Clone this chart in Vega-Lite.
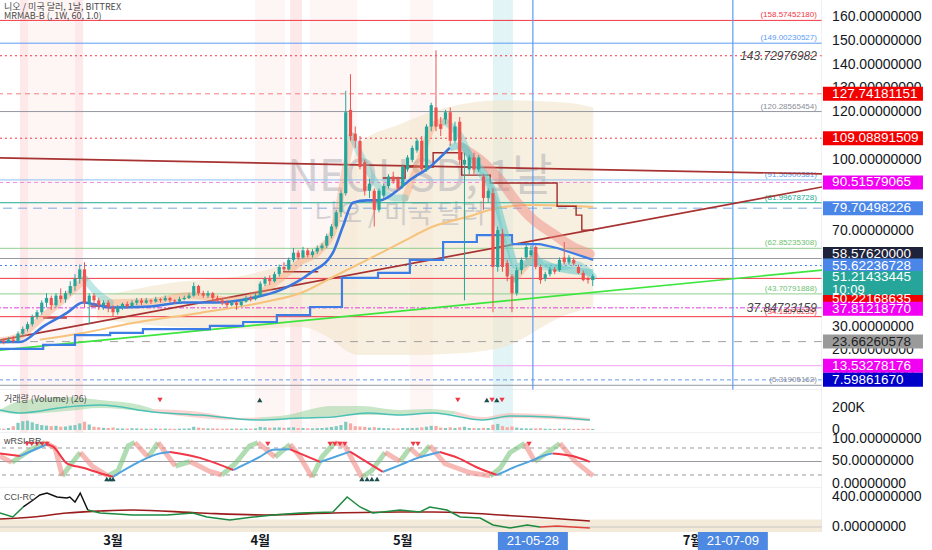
{
  "$schema": "https://vega.github.io/schema/vega-lite/v6.json",
  "padding": 0,
  "background": "#ffffff",
  "spacing": 0,
  "bounds": "flush",
  "config": {"font": "Liberation Sans", "view": {"stroke": null}, "concat": {"spacing": 0}},
  "datasets": {
    "candles": [
      {"t":-24,"o":23,"h":25,"l":22,"c":24,"vol":15},{"t":-23,"o":24,"h":25,"l":22.5,"c":23.5,"vol":12},{"t":-22,"o":23.5,"h":25.5,"l":23,"c":24.5,"vol":18},{"t":-21,"o":24.5,"h":26,"l":23,"c":24,"vol":35},
      {"t":-20,"o":24,"h":28,"l":23.5,"c":27,"vol":65},{"t":-19,"o":27,"h":30,"l":26,"c":29,"vol":80},{"t":-18,"o":29,"h":32,"l":28,"c":31,"vol":85},{"t":-17,"o":31,"h":35,"l":30,"c":34,"vol":70},
      {"t":-16,"o":34,"h":37,"l":33,"c":36,"vol":55},{"t":-15,"o":36,"h":41,"l":35,"c":40,"vol":45},{"t":-14,"o":40,"h":44,"l":38,"c":42,"vol":40},{"t":-13,"o":42,"h":43,"l":37,"c":39,"vol":35},
      {"t":-12,"o":39,"h":44,"l":38,"c":43,"vol":38},{"t":-11,"o":43,"h":46,"l":40,"c":41.5,"vol":30},{"t":-10,"o":41.5,"h":45,"l":40,"c":44,"vol":32},{"t":-9,"o":44,"h":49,"l":43,"c":47,"vol":40},
      {"t":-8,"o":47,"h":52,"l":45,"c":50,"vol":45},{"t":-7,"o":50,"h":56,"l":48,"c":54,"vol":60},{"t":-6,"o":54,"h":57,"l":38,"c":40,"vol":75},{"t":-5,"o":40,"h":44,"l":31,"c":43,"vol":50},
      {"t":-4,"o":43,"h":44,"l":39,"c":41,"vol":30},{"t":-3,"o":41,"h":42,"l":37,"c":39,"vol":25},{"t":-2,"o":39,"h":41,"l":37,"c":40,"vol":20},{"t":-1,"o":40,"h":41,"l":36,"c":38,"vol":18},
      {"t":0,"o":38,"h":39,"l":34,"c":36,"vol":22},{"t":1,"o":36,"h":39,"l":35,"c":38,"vol":15},{"t":2,"o":38,"h":40,"l":37,"c":39.5,"vol":14},{"t":3,"o":39.5,"h":40.5,"l":37.5,"c":38.5,"vol":13},
      {"t":4,"o":38.5,"h":41,"l":38,"c":40,"vol":16},{"t":5,"o":40,"h":42,"l":39,"c":41,"vol":15},{"t":6,"o":41,"h":42,"l":39,"c":40,"vol":13},{"t":7,"o":40,"h":42,"l":39.5,"c":41,"vol":12},
      {"t":8,"o":41,"h":41.5,"l":39.5,"c":40.5,"vol":12},{"t":9,"o":40.5,"h":42.5,"l":40,"c":41.5,"vol":14},{"t":10,"o":41.5,"h":42,"l":40,"c":41,"vol":12},{"t":11,"o":41,"h":43,"l":40.5,"c":42,"vol":13},
      {"t":12,"o":42,"h":42.5,"l":40,"c":41,"vol":12},{"t":13,"o":41,"h":41.5,"l":39.5,"c":40.5,"vol":11},{"t":14,"o":40.5,"h":42.5,"l":40,"c":41.5,"vol":12},{"t":15,"o":41.5,"h":43,"l":41,"c":42,"vol":13},
      {"t":16,"o":42,"h":44,"l":41.5,"c":43,"vol":15},{"t":17,"o":43,"h":48.5,"l":42.5,"c":47,"vol":30},{"t":18,"o":47,"h":47.5,"l":43,"c":44,"vol":22},{"t":19,"o":44,"h":45,"l":42,"c":43,"vol":16},
      {"t":20,"o":43,"h":45,"l":42,"c":44,"vol":14},{"t":21,"o":44,"h":44.5,"l":41,"c":42,"vol":15},{"t":22,"o":42,"h":43,"l":40,"c":41,"vol":13},{"t":23,"o":41,"h":42,"l":39,"c":40,"vol":12},
      {"t":24,"o":40,"h":41,"l":38,"c":39,"vol":13},{"t":25,"o":39,"h":41,"l":38.5,"c":40,"vol":12},{"t":26,"o":40,"h":40.5,"l":37,"c":39,"vol":14},{"t":27,"o":39,"h":41.5,"l":38.5,"c":40.5,"vol":12},
      {"t":28,"o":40.5,"h":43,"l":40,"c":42,"vol":14},{"t":29,"o":42,"h":43,"l":40.5,"c":41.5,"vol":12},{"t":30,"o":41.5,"h":44,"l":41,"c":43,"vol":15},{"t":31,"o":43,"h":49,"l":42.5,"c":48,"vol":28},
      {"t":32,"o":48,"h":51,"l":47,"c":50,"vol":24},{"t":33,"o":50,"h":51.5,"l":47.5,"c":49,"vol":20},{"t":34,"o":49,"h":53,"l":48.5,"c":52,"vol":22},{"t":35,"o":52,"h":56,"l":51,"c":55,"vol":24},
      {"t":36,"o":55,"h":57,"l":53,"c":54,"vol":20},{"t":37,"o":54,"h":59,"l":53.5,"c":58,"vol":22},{"t":38,"o":58,"h":63,"l":57,"c":61,"vol":25},{"t":39,"o":61,"h":62,"l":58,"c":59,"vol":18},
      {"t":40,"o":59,"h":63.5,"l":58.5,"c":62,"vol":18},{"t":41,"o":62,"h":63,"l":59,"c":60,"vol":16},{"t":42,"o":60,"h":62.5,"l":59,"c":61.5,"vol":15},{"t":43,"o":61.5,"h":64,"l":60.5,"c":63,"vol":17},
      {"t":44,"o":63,"h":65,"l":62,"c":64,"vol":18},{"t":45,"o":64,"h":69,"l":63,"c":68,"vol":22},{"t":46,"o":68,"h":73,"l":67,"c":72,"vol":28},{"t":47,"o":72,"h":79,"l":71,"c":78,"vol":35},
      {"t":48,"o":78,"h":87,"l":76,"c":86,"vol":45},{"t":49,"o":86,"h":129,"l":85,"c":120,"vol":75},{"t":50,"o":121,"h":136,"l":108,"c":110,"vol":60},{"t":51,"o":111,"h":114,"l":105,"c":108,"vol":35},
      {"t":52,"o":108,"h":110,"l":96,"c":97,"vol":32},{"t":53,"o":99,"h":100,"l":85,"c":87,"vol":28},{"t":54,"o":87,"h":92,"l":84,"c":90,"vol":22},{"t":55,"o":87,"h":88,"l":72,"c":79,"vol":26},
      {"t":56,"o":79,"h":88,"l":78,"c":87,"vol":20},{"t":57,"o":85,"h":90,"l":84,"c":89,"vol":17},{"t":58,"o":89,"h":94,"l":88,"c":93,"vol":16},{"t":59,"o":93,"h":95,"l":90,"c":91,"vol":15},
      {"t":60,"o":92,"h":93,"l":87,"c":88,"vol":14},{"t":61,"o":89,"h":98,"l":88,"c":97,"vol":18},{"t":62,"o":96,"h":102,"l":95,"c":101,"vol":17},{"t":63,"o":100,"h":106,"l":99,"c":105,"vol":18},
      {"t":64,"o":104,"h":109,"l":103,"c":108,"vol":20},{"t":65,"o":108,"h":110,"l":95,"c":96,"vol":24},{"t":66,"o":96,"h":115,"l":95,"c":114,"vol":30},{"t":67,"o":114,"h":124,"l":112,"c":123,"vol":38},
      {"t":68,"o":122,"h":146,"l":112,"c":114,"vol":36},{"t":69,"o":115,"h":118,"l":110,"c":113,"vol":22},{"t":70,"o":117,"h":121,"l":115,"c":120,"vol":18},{"t":71,"o":120,"h":122,"l":106,"c":108,"vol":24},
      {"t":72,"o":108,"h":116,"l":107,"c":114,"vol":18},{"t":73,"o":116,"h":118,"l":98,"c":100,"vol":25},{"t":74,"o":98,"h":103,"l":41,"c":100,"vol":30},{"t":75,"o":96,"h":102,"l":94,"c":101,"vol":18},
      {"t":76,"o":101,"h":103,"l":94,"c":96,"vol":17},{"t":77,"o":96,"h":102,"l":95,"c":101,"vol":16},{"t":78,"o":93,"h":94,"l":79,"c":84,"vol":20},{"t":79,"o":84,"h":88,"l":82,"c":87,"vol":18},
      {"t":80,"o":86,"h":88,"l":36,"c":55,"vol":48},{"t":81,"o":55,"h":72,"l":53,"c":70.5,"vol":55},{"t":82,"o":69,"h":71,"l":53,"c":55,"vol":35},{"t":83,"o":56.7,"h":58,"l":49,"c":51,"vol":25},
      {"t":84,"o":51,"h":52,"l":36,"c":44,"vol":32},{"t":85,"o":44,"h":55,"l":43,"c":53.7,"vol":22},{"t":86,"o":53.7,"h":59,"l":52,"c":58,"vol":16},{"t":87,"o":59,"h":65,"l":58,"c":63.4,"vol":15},
      {"t":88,"o":60,"h":64,"l":59,"c":62,"vol":14},{"t":89,"o":63.4,"h":64,"l":54,"c":55,"vol":15},{"t":90,"o":55,"h":56,"l":48,"c":49.5,"vol":16},{"t":91,"o":50,"h":53,"l":49,"c":52,"vol":12},
      {"t":92,"o":52,"h":55,"l":51,"c":54,"vol":11},{"t":93,"o":54,"h":55,"l":52,"c":53,"vol":10},{"t":94,"o":53.7,"h":59,"l":53,"c":58,"vol":12},{"t":95,"o":59,"h":65.5,"l":56,"c":57,"vol":14},
      {"t":96,"o":57,"h":60,"l":56,"c":59,"vol":11},{"t":97,"o":58,"h":59,"l":55.5,"c":56.5,"vol":10},{"t":98,"o":55,"h":56,"l":52,"c":52.5,"vol":11},{"t":99,"o":52.5,"h":53.5,"l":49,"c":49.5,"vol":12},
      {"t":100,"o":50,"h":51,"l":48,"c":49.5,"vol":12},{"t":101,"o":49.5,"h":52,"l":47,"c":51.2,"vol":10}
    ],
    "bands": [
      {"t1":-19.6,"t2":-17.9,"k":"p"},{"t1":-17.9,"t2":-8,"k":"pf"},{"t1":-8,"t2":-6.3,"k":"p"},{"t1":29.9,"t2":36.2,"k":"pf"},
      {"t1":37.3,"t2":39.8,"k":"p"},{"t1":41.5,"t2":51.4,"k":"pf"},{"t1":62.5,"t2":67.4,"k":"pf"},{"t1":80,"t2":82.5,"k":"c"},{"t1":82.5,"t2":84.2,"k":"c"}
    ],
    "cloud": [
      {"t":-3.4,"top":42.4,"bot":33},{"t":12,"top":48.3,"bot":30},{"t":28.8,"top":52,"bot":29},{"t":39.4,"top":60,"bot":29.8},
      {"t":45.7,"top":70,"bot":25},{"t":49.9,"top":95,"bot":19},{"t":52,"top":107,"bot":18},{"t":60.4,"top":115,"bot":18},
      {"t":70.3,"top":122,"bot":18.5},{"t":81.5,"top":125,"bot":21},{"t":95.6,"top":124,"bot":35},{"t":101.1,"top":122,"bot":38.2}
    ],
    "levels": [
      {"v":158.5745218,"s":"rs"},{"v":149.00230527,"s":"bs"},{"v":143.72976982,"s":"rdot"},{"v":127.74181151,"s":"rdash"},
      {"v":120.28565454,"s":"gs"},{"v":109.08891509,"s":"rdot"},{"v":91.56900381,"s":"bs2"},{"v":90.51579065,"s":"mdash"},
      {"v":81.99678728,"s":"ts"},{"v":79.70498226,"s":"bdash"},{"v":62.85235308,"s":"grs"},{"v":58.5762,"s":"gs"},
      {"v":55.62236728,"s":"bdot"},{"v":50.22168635,"s":"rs"},{"v":43.70791888,"s":"grs"},{"v":37.84723159,"s":"mdd"},
      {"v":34.13570235,"s":"rs"},{"v":23.66260578,"s":"gdash"},{"v":13.53278176,"s":"ms"},{"v":7.5986167,"s":"bdash2"},{"v":5.31905162,"s":"gs"}
    ],
    "levlab": [
      {"v":158.5745218,"s":"rs","label":"(158.57452180)"},{"v":149.00230527,"s":"bs","label":"(149.00230527)"},
      {"v":120.28565454,"s":"gs","label":"(120.28565454)"},{"v":91.56900381,"s":"bs","label":"(91.56900381)"},
      {"v":81.99678728,"s":"ts","label":"(81.99678728)"},{"v":62.85235308,"s":"grs","label":"(62.85235308)"},
      {"v":43.70791888,"s":"grs","label":"(43.70791888)"},{"v":34.13570235,"s":"rs","label":"(34.13570235)"},
      {"v":5.31905162,"s":"gs","label":"(5.31905162)"}
    ],
    "ital": [{"v":143.72976982,"label":"143.72976982"},{"v":37.84723159,"label":"37.84723159"}],
    "dates": [{"t":88.4,"label":"21-05-28"},{"t":130.5,"label":"21-07-09"}],
    "months": [{"t":0,"label":"3월"},{"t":31,"label":"4월"},{"t":61,"label":"5월"},{"t":122,"label":"7월"}],
    "pticks": [
      {"v":10,"label":"10.00000000"},{"v":20,"label":"20.00000000"},{"v":30,"label":"30.00000000"},{"v":70,"label":"70.00000000"},
      {"v":100,"label":"100.00000000"},{"v":120,"label":"120.00000000"},
      {"v":130,"label":"130.00000000"},{"v":140,"label":"140.00000000"},{"v":150,"label":"150.00000000"},{"v":160,"label":"160.00000000"}
    ],
    "trend": [
      {"t":-23.79,"v":100.8,"k":"d"},{"t":149.27,"v":94.1,"k":"d"},
      {"t":-23.79,"v":24.3,"k":"u"},{"t":149.27,"v":88.6,"k":"u"},
      {"t":-23.79,"v":20.1,"k":"g"},{"t":149.27,"v":53.7,"k":"g"}
    ],
    "ma": [
      {"t":-15.4,"v":24.5},{"t":-6.3,"v":27.3},{"t":4.2,"v":31.5},{"t":18.3,"v":35.7},{"t":32.4,"v":40.5},{"t":39.4,"v":44},
      {"t":46.3,"v":50.8},{"t":53.5,"v":58},{"t":60.4,"v":65},{"t":67.4,"v":72},{"t":74.5,"v":76},{"t":81.5,"v":80},{"t":88.4,"v":81},{"t":101.1,"v":80.2}
    ],
    "pink": [
      {"t":73.5,"v":105},{"t":77.3,"v":100},{"t":81.5,"v":91.5},{"t":85.1,"v":82},{"t":88.4,"v":75},{"t":92.6,"v":69},{"t":96.8,"v":63.4},{"t":100.4,"v":60.5}
    ],
    "bstep": [
      {"t":-23.8,"v":20.6},{"t":-14.7,"v":22.3},{"t":-8,"v":26.4},{"t":-0.6,"v":27.3},{"t":6.3,"v":28.9},{"t":20.4,"v":30.3},
      {"t":27.4,"v":31.9},{"t":34.5,"v":34.8},{"t":41.5,"v":38.2},{"t":48.2,"v":50.4},{"t":55.8,"v":52.5},{"t":62.5,"v":58},
      {"t":69.5,"v":65.5},{"t":76.6,"v":68.4},{"t":84,"v":64.6},{"t":89.9,"v":64.6}
    ],
    "bdiag": [{"t":89.9,"v":64.6},{"t":93.5,"v":63},{"t":101.1,"v":58}],
    "rstep": [
      {"t":-14.7,"v":33.6,"g":1},{"t":-9.7,"v":33.6,"g":1},
      {"t":-4.8,"v":38.6,"g":2},{"t":-0.6,"v":38.6,"g":2},
      {"t":35.8,"v":53,"g":3},{"t":43.2,"v":53,"g":3},
      {"t":56.8,"v":92.4,"g":4},{"t":61.5,"v":97,"g":4},{"t":67.4,"v":103,"g":4},{"t":73.4,"v":93.6,"g":4},{"t":79.4,"v":90.3,"g":4},
      {"t":93.5,"v":80.5,"g":4},{"t":97.5,"v":76.8,"g":4},{"t":98.7,"v":70.5,"g":4},{"t":101.1,"v":70,"g":4}
    ],
    "fast": [
      {"t":-23.8,"v":24,"g":1,"k":"o"},{"t":-19.6,"v":26,"g":1,"k":"o"},{"t":-15.4,"v":33,"g":1,"k":"o"},{"t":-11.2,"v":40,"g":1,"k":"o"},{"t":-8,"v":46,"g":1,"k":"o"},{"t":-5.9,"v":50,"g":1,"k":"o"},
      {"t":-5.9,"v":50,"g":2,"k":"c"},{"t":-3.8,"v":45,"g":2,"k":"c"},{"t":-0.6,"v":40,"g":2,"k":"c"},
      {"t":-0.6,"v":40,"g":3,"k":"o"},{"t":7.8,"v":40.5,"g":3,"k":"o"},{"t":16.2,"v":43,"g":3,"k":"o"},{"t":24.6,"v":41,"g":3,"k":"o"},{"t":30.9,"v":44,"g":3,"k":"o"},{"t":35.2,"v":50,"g":3,"k":"o"},{"t":39.4,"v":57,"g":3,"k":"o"},{"t":43.6,"v":62,"g":3,"k":"o"},{"t":46.7,"v":72,"g":3,"k":"o"},{"t":48.8,"v":95,"g":3,"k":"o"},{"t":50.3,"v":110,"g":3,"k":"o"},
      {"t":50.3,"v":110,"g":4,"k":"c"},{"t":53.1,"v":98,"g":4,"k":"c"},{"t":56.2,"v":88,"g":4,"k":"c"},{"t":59.4,"v":84,"g":4,"k":"c"},{"t":61.5,"v":84,"g":4,"k":"c"},
      {"t":61.5,"v":84,"g":5,"k":"o"},{"t":64.6,"v":100,"g":5,"k":"o"},{"t":67.8,"v":115,"g":5,"k":"o"},{"t":69.9,"v":116,"g":5,"k":"o"},
      {"t":69.9,"v":116,"g":6,"k":"c"},{"t":73.1,"v":110,"g":6,"k":"c"},{"t":76.2,"v":97,"g":6,"k":"c"},{"t":79.4,"v":88,"g":6,"k":"c"},{"t":81.5,"v":70,"g":6,"k":"c"},{"t":83.6,"v":55,"g":6,"k":"c"},{"t":84.6,"v":50,"g":6,"k":"c"},
      {"t":84.6,"v":50,"g":7,"k":"o"},{"t":86.7,"v":55,"g":7,"k":"o"},{"t":88.8,"v":60,"g":7,"k":"o"},
      {"t":88.8,"v":60,"g":8,"k":"c"},{"t":90.9,"v":55,"g":8,"k":"c"},{"t":94.1,"v":55,"g":8,"k":"c"},{"t":97.3,"v":56,"g":8,"k":"c"},{"t":101.1,"v":51,"g":8,"k":"c"}
    ],
    "ema": [
      {"t":-23.8,"v":23.5,"k":"b"},{"t":-19.6,"v":23.5,"k":"b"},{"t":-14.7,"v":30,"k":"b"},{"t":-9.7,"v":35.7,"k":"b"},{"t":-6.3,"v":40.1,"k":"b"},
      {"t":-3.8,"v":39.3,"k":"b"},{"t":-0.6,"v":38,"k":"b"},{"t":7.8,"v":38.4,"k":"b"},{"t":14.7,"v":40.1,"k":"b"},{"t":21.9,"v":40.1,"k":"b"},
      {"t":28.8,"v":41.8,"k":"b"},{"t":35.2,"v":45.3,"k":"b"},{"t":41.5,"v":52.4,"k":"b"},{"t":46.3,"v":61,"k":"b"},{"t":48.4,"v":72,"k":"b"},
      {"t":50.5,"v":82,"k":"b"},{"t":53.5,"v":83,"k":"b"},{"t":56.2,"v":83,"k":"b"},{"t":60.4,"v":88,"k":"b"},{"t":62.5,"v":91.5,"k":"b"},
      {"t":66.7,"v":97,"k":"b"},{"t":70.9,"v":105,"k":"b"},
      {"t":70.9,"v":105,"k":"c"},{"t":73.1,"v":106,"k":"c"},{"t":75.8,"v":100,"k":"c"},{"t":80,"v":87,"k":"c"},{"t":82.9,"v":67,"k":"c"},
      {"t":85.1,"v":55,"k":"c"},{"t":87.8,"v":57,"k":"c"},{"t":89.9,"v":57,"k":"c"},{"t":92.6,"v":55,"k":"c"},{"t":101.1,"v":52.6,"k":"c"}
    ],
    "tags": [
      {"pos":127.74181151,"label":"127.74181151"},{"pos":109.08891509,"label":"109.08891509"},{"pos":90.51579065,"label":"90.51579065"},
      {"pos":79.70498226,"label":"79.70498226"},{"pos":60.5,"label":"58.57620000"},{"pos":55.62236728,"label":"55.62236728"},
      {"pos":50.8,"label":"51.21433445"},{"pos":41.7,"label":"50.22168635"},{"pos":37.5,"label":"37.81218770"},
      {"pos":23.66260578,"label":"23.66260578"},{"pos":13.53278176,"label":"13.53278176"},{"pos":7.5986167,"label":"7.59861670"}
    ],
    "vband": [
      {"t":-23.8,"lo":164,"hi":182,"g":1,"k":"g"},{"t":-19.6,"lo":145,"hi":264,"g":1,"k":"g"},{"t":-9.7,"lo":173,"hi":300,"g":1,"k":"g"},{"t":-2.7,"lo":200,"hi":273,"g":1,"k":"g"},{"t":5.7,"lo":173,"hi":227,"g":1,"k":"g"},{"t":8.4,"lo":164,"hi":191,"g":1,"k":"g"},
      {"t":8.4,"lo":164,"hi":191,"g":2,"k":"r"},{"t":18.3,"lo":109,"hi":164,"g":2,"k":"r"},{"t":26.7,"lo":91,"hi":109,"g":2,"k":"r"},{"t":30.9,"lo":95,"hi":115,"g":2,"k":"r"},
      {"t":30.9,"lo":95,"hi":115,"g":3,"k":"g"},{"t":35.2,"lo":100,"hi":127,"g":3,"k":"g"},{"t":46.3,"lo":127,"hi":218,"g":3,"k":"g"},{"t":52,"lo":136,"hi":218,"g":3,"k":"g"},{"t":60.4,"lo":136,"hi":182,"g":3,"k":"g"},{"t":66.7,"lo":155,"hi":191,"g":3,"k":"g"},{"t":72,"lo":140,"hi":170,"g":3,"k":"g"},
      {"t":72,"lo":140,"hi":170,"g":4,"k":"r"},{"t":77.9,"lo":91,"hi":118,"g":4,"k":"r"},{"t":83.6,"lo":109,"hi":155,"g":4,"k":"r"},{"t":100.4,"lo":82,"hi":109,"g":4,"k":"r"}
    ],
    "vma": [
      {"t":-23.8,"v":182},{"t":-19.6,"v":155},{"t":-9.7,"v":209},{"t":-2.7,"v":227},{"t":8.4,"v":164},{"t":18.3,"v":136},{"t":30.9,"v":91},{"t":39.4,"v":109},
      {"t":46.3,"v":118},{"t":53.5,"v":155},{"t":60.4,"v":136},{"t":67.4,"v":155},{"t":77.9,"v":91},{"t":83.6,"v":127},{"t":92,"v":118},{"t":100.4,"v":91}
    ],
    "vmarks": [
      {"t":9.9,"v":273,"k":"d"},{"t":30.9,"v":273,"k":"u"},{"t":72.6,"v":273,"k":"d"},{"t":78.7,"v":273,"k":"u"},{"t":79.8,"v":273,"k":"d"},{"t":80.8,"v":273,"k":"u"},{"t":81.9,"v":273,"k":"d"}
    ],
    "rlev": [{"v":80,"s":"d"},{"v":50,"s":"s"},{"v":20,"s":"d"}],
    "rsmooth": [
      {"t":-23.8,"v":68,"g":1,"k":"r"},{"t":-19.6,"v":62,"g":1,"k":"r"},
      {"t":-19.6,"v":62,"g":2,"k":"b"},{"t":-16.8,"v":75,"g":2,"k":"b"},{"t":-13.9,"v":88,"g":2,"k":"b"},
      {"t":-13.9,"v":88,"g":3,"k":"r"},{"t":-12.6,"v":83,"g":3,"k":"r"},{"t":-9.7,"v":46,"g":3,"k":"r"},{"t":-6.3,"v":36,"g":3,"k":"r"},{"t":-2.7,"v":24,"g":3,"k":"r"},{"t":0,"v":16,"g":3,"k":"r"},
      {"t":0,"v":16,"g":4,"k":"b"},{"t":4.2,"v":42,"g":4,"k":"b"},{"t":9.9,"v":68,"g":4,"k":"b"},{"t":12,"v":71,"g":4,"k":"b"},
      {"t":12,"v":71,"g":5,"k":"r"},{"t":18.3,"v":58,"g":5,"k":"r"},{"t":25.3,"v":31,"g":5,"k":"r"},
      {"t":25.3,"v":31,"g":6,"k":"b"},{"t":30.9,"v":60,"g":6,"k":"b"},{"t":33.7,"v":76,"g":6,"k":"b"},{"t":37.3,"v":77,"g":6,"k":"b"},
      {"t":37.3,"v":77,"g":7,"k":"r"},{"t":43.6,"v":49,"g":7,"k":"r"},
      {"t":43.6,"v":49,"g":8,"k":"b"},{"t":49.9,"v":72,"g":8,"k":"b"},
      {"t":49.9,"v":72,"g":9,"k":"r"},{"t":56.8,"v":27,"g":9,"k":"r"},
      {"t":56.8,"v":27,"g":10,"k":"b"},{"t":60.4,"v":42,"g":10,"k":"b"},{"t":64.2,"v":58,"g":10,"k":"b"},{"t":68.8,"v":71,"g":10,"k":"b"},
      {"t":68.8,"v":71,"g":11,"k":"r"},{"t":72.6,"v":58,"g":11,"k":"r"},{"t":76.8,"v":36,"g":11,"k":"r"},{"t":80.8,"v":20,"g":11,"k":"r"},
      {"t":80.8,"v":20,"g":12,"k":"b"},{"t":84.2,"v":36,"g":12,"k":"b"},{"t":88.4,"v":53,"g":12,"k":"b"},{"t":90.9,"v":64,"g":12,"k":"b"},{"t":92.6,"v":68,"g":12,"k":"b"},
      {"t":92.6,"v":68,"g":13,"k":"r"},{"t":96.8,"v":62,"g":13,"k":"r"},{"t":100.4,"v":49,"g":13,"k":"r"}
    ],
    "rrib": [
      {"t":-23.8,"v":62,"g":1,"k":"r"},{"t":-21.3,"v":48,"g":1,"k":"r"},
      {"t":-21.3,"v":48,"g":2,"k":"g"},{"t":-17.5,"v":75,"g":2,"k":"g"},{"t":-14.3,"v":92,"g":2,"k":"g"},
      {"t":-14.3,"v":92,"g":3,"k":"r"},{"t":-12.2,"v":80,"g":3,"k":"r"},{"t":-10.7,"v":18,"g":3,"k":"r"},
      {"t":-10.7,"v":18,"g":4,"k":"g"},{"t":-9.1,"v":40,"g":4,"k":"g"},{"t":-6.9,"v":70,"g":4,"k":"g"},
      {"t":-6.9,"v":70,"g":5,"k":"r"},{"t":-4.4,"v":40,"g":5,"k":"r"},{"t":-1.1,"v":18,"g":5,"k":"r"},
      {"t":-1.1,"v":18,"g":6,"k":"g"},{"t":1.1,"v":30,"g":6,"k":"g"},{"t":3.2,"v":85,"g":6,"k":"g"},{"t":4.6,"v":92,"g":6,"k":"g"},
      {"t":4.6,"v":92,"g":7,"k":"r"},{"t":7.4,"v":60,"g":7,"k":"r"},
      {"t":7.4,"v":60,"g":8,"k":"g"},{"t":9.5,"v":92,"g":8,"k":"g"},
      {"t":9.5,"v":92,"g":9,"k":"r"},{"t":13.1,"v":40,"g":9,"k":"r"},
      {"t":13.1,"v":40,"g":10,"k":"g"},{"t":16.2,"v":50,"g":10,"k":"g"},
      {"t":16.2,"v":50,"g":11,"k":"r"},{"t":20.4,"v":28,"g":11,"k":"r"},{"t":22.9,"v":20,"g":11,"k":"r"},
      {"t":22.9,"v":20,"g":12,"k":"g"},{"t":25.7,"v":45,"g":12,"k":"g"},{"t":28.8,"v":85,"g":12,"k":"g"},{"t":30.5,"v":92,"g":12,"k":"g"},
      {"t":30.5,"v":92,"g":13,"k":"r"},{"t":34.1,"v":60,"g":13,"k":"r"},
      {"t":34.1,"v":60,"g":14,"k":"g"},{"t":37.3,"v":88,"g":14,"k":"g"},
      {"t":37.3,"v":88,"g":15,"k":"r"},{"t":39.4,"v":60,"g":15,"k":"r"},{"t":41.9,"v":15,"g":15,"k":"r"},
      {"t":41.9,"v":15,"g":16,"k":"g"},{"t":44,"v":60,"g":16,"k":"g"},{"t":46.7,"v":92,"g":16,"k":"g"},
      {"t":46.7,"v":92,"g":17,"k":"r"},{"t":48.8,"v":85,"g":17,"k":"r"},{"t":52.4,"v":15,"g":17,"k":"r"},
      {"t":52.4,"v":15,"g":18,"k":"g"},{"t":54.5,"v":30,"g":18,"k":"g"},{"t":57.3,"v":70,"g":18,"k":"g"},
      {"t":57.3,"v":70,"g":19,"k":"r"},{"t":60.4,"v":50,"g":19,"k":"r"},
      {"t":60.4,"v":50,"g":20,"k":"g"},{"t":62.5,"v":80,"g":20,"k":"g"},
      {"t":62.5,"v":80,"g":21,"k":"r"},{"t":64.6,"v":60,"g":21,"k":"r"},
      {"t":64.6,"v":60,"g":22,"k":"g"},{"t":66.7,"v":85,"g":22,"k":"g"},
      {"t":66.7,"v":85,"g":23,"k":"r"},{"t":69.9,"v":45,"g":23,"k":"r"},{"t":75.2,"v":25,"g":23,"k":"r"},{"t":79.4,"v":18,"g":23,"k":"r"},
      {"t":79.4,"v":18,"g":24,"k":"g"},{"t":81.5,"v":35,"g":24,"k":"g"},{"t":83.6,"v":70,"g":24,"k":"g"},{"t":86.7,"v":90,"g":24,"k":"g"},
      {"t":86.7,"v":90,"g":25,"k":"r"},{"t":88.8,"v":50,"g":25,"k":"r"},
      {"t":88.8,"v":50,"g":26,"k":"g"},{"t":94.1,"v":90,"g":26,"k":"g"},
      {"t":94.1,"v":90,"g":27,"k":"r"},{"t":97.3,"v":50,"g":27,"k":"r"},{"t":101.1,"v":18,"g":27,"k":"r"}
    ],
    "rmarks": [
      {"t":-18.1,"v":88.9,"k":"d"},{"t":-17.1,"v":88.9,"k":"d"},{"t":-16,"v":88.9,"k":"d"},{"t":-14.9,"v":88.9,"k":"d"},{"t":-13.9,"v":88.9,"k":"d"},
      {"t":32.6,"v":88.9,"k":"d"},{"t":45.7,"v":88.9,"k":"d"},{"t":46.7,"v":88.9,"k":"d"},{"t":47.8,"v":88.9,"k":"d"},{"t":48.8,"v":88.9,"k":"d"},
      {"t":63.2,"v":88.9,"k":"d"},{"t":64.2,"v":88.9,"k":"d"},{"t":87.6,"v":88.9,"k":"d"},
      {"t":-1.3,"v":11.1,"k":"u"},{"t":-0.6,"v":11.1,"k":"u"},{"t":0,"v":11.1,"k":"u"},
      {"t":52.4,"v":11.1,"k":"u"},{"t":53.5,"v":11.1,"k":"u"},{"t":54.5,"v":11.1,"k":"u"},{"t":55.6,"v":11.1,"k":"u"}
    ],
    "cci": [
      {"t":-23.8,"v":187,"g":1,"k":"g"},{"t":-21.1,"v":133,"g":1,"k":"g"},{"t":-18.9,"v":267,"g":1,"k":"g"},
      {"t":-18.9,"v":267,"g":2,"k":"k"},{"t":-16.8,"v":360,"g":2,"k":"k"},{"t":-15.4,"v":427,"g":2,"k":"k"},{"t":-13.9,"v":453,"g":2,"k":"k"},{"t":-11.8,"v":400,"g":2,"k":"k"},
      {"t":-9.7,"v":387,"g":2,"k":"k"},{"t":-9.1,"v":400,"g":2,"k":"k"},{"t":-8,"v":333,"g":2,"k":"k"},{"t":-6.9,"v":453,"g":2,"k":"k"},{"t":-5.3,"v":227,"g":2,"k":"k"},
      {"t":-5.3,"v":227,"g":3,"k":"g"},{"t":-2.7,"v":187,"g":3,"k":"g"},{"t":4.2,"v":160,"g":3,"k":"g"},{"t":11.4,"v":160,"g":3,"k":"g"},{"t":16.8,"v":187,"g":3,"k":"g"},
      {"t":19.8,"v":133,"g":3,"k":"g"},{"t":24.6,"v":93,"g":3,"k":"g"},{"t":29.5,"v":133,"g":3,"k":"g"},{"t":33.7,"v":160,"g":3,"k":"g"},{"t":39.4,"v":187,"g":3,"k":"g"},
      {"t":46.3,"v":200,"g":3,"k":"g"},{"t":49.3,"v":400,"g":3,"k":"g"},{"t":52,"v":267,"g":3,"k":"g"},{"t":54.7,"v":187,"g":3,"k":"g"},{"t":56.8,"v":200,"g":3,"k":"g"},
      {"t":60.4,"v":227,"g":3,"k":"g"},{"t":64.6,"v":200,"g":3,"k":"g"},{"t":66.7,"v":267,"g":3,"k":"g"},{"t":70.3,"v":227,"g":3,"k":"g"},{"t":73.1,"v":133,"g":3,"k":"g"},
      {"t":77.3,"v":120,"g":3,"k":"g"},{"t":80,"v":27,"g":3,"k":"g"},{"t":83.6,"v":-13,"g":3,"k":"g"},{"t":87.2,"v":27,"g":3,"k":"g"},{"t":89.9,"v":0,"g":3,"k":"g"},
      {"t":89.9,"v":0,"g":4,"k":"r"},{"t":93.5,"v":13,"g":4,"k":"r"},{"t":96.8,"v":0,"g":4,"k":"r"},{"t":100.4,"v":-13,"g":4,"k":"r"}
    ],
    "ccima": [
      {"t":-23.8,"v":107},{"t":-16.8,"v":133},{"t":-9.7,"v":187},{"t":-2.7,"v":213},{"t":4.2,"v":227},{"t":18.3,"v":187},{"t":32.4,"v":160},
      {"t":46.3,"v":187},{"t":60.4,"v":200},{"t":67.4,"v":200},{"t":74.5,"v":187},{"t":81.5,"v":160},{"t":88.4,"v":133},{"t":100.4,"v":80}
    ]
  },
  "vconcat": [
    {
      "width": 822,
      "height": 390,
      "resolve": {"scale": {"color": "independent", "strokeDash": "independent", "size": "independent"}},
      "layer": [
        {"data": {"name": "bands"}, "mark": {"type": "rect", "clip": true},
         "encoding": {"x": {"field": "t1", "type": "quantitative", "scale": {"domain": [-23.79, 149.27], "nice": false, "zero": false, "padding": 0}, "axis": null}, "x2": {"field": "t2"},
           "color": {"field": "k", "type": "nominal", "scale": {"domain": ["p", "pf", "c"], "range": ["#fde9e9", "#fef5f5", "#e3f4f6"]}, "legend": null}}},
        {"data": {"name": "cloud"}, "mark": {"type": "area", "color": "#f2e4cc", "opacity": 0.6, "interpolate": "monotone", "clip": true},
         "encoding": {"x": {"field": "t", "type": "quantitative", "scale": {"domain": [-23.79, 149.27], "nice": false, "zero": false, "padding": 0}, "axis": null},
           "y": {"field": "top", "type": "quantitative", "scale": {"domain": [3.34, 167.14], "nice": false, "zero": false}, "axis": null}, "y2": {"field": "bot"}}},
        {"data": {"values": [{"t": 64.6, "v": 92.4, "label": "NEOUSD, 1날"}, {"t": 60.4, "v": 76.8, "label": "니오 / 미국 달러"}]},
         "mark": {"type": "text", "color": "#a3a6ad", "opacity": 0.45, "font": "Noto Sans CJK KR", "align": "center", "baseline": "middle"},
         "encoding": {"x": {"field": "t", "type": "quantitative", "scale": {"domain": [-23.79, 149.27], "nice": false, "zero": false, "padding": 0}, "axis": null},
           "y": {"field": "v", "type": "quantitative", "scale": {"domain": [3.34, 167.14], "nice": false, "zero": false}, "axis": null}, "text": {"field": "label"},
           "size": {"field": "label", "type": "nominal", "legend": null, "scale": {"domain": ["NEOUSD, 1날", "니오 / 미국 달러"], "range": [44, 26]}}}},
        {"data": {"name": "pticks"}, "mark": {"type": "text", "align": "left", "baseline": "middle", "fontSize": 14, "color": "#131722"},
         "encoding": {"x": {"datum": 151.4, "type": "quantitative", "scale": {"domain": [-23.79, 149.27], "nice": false, "zero": false, "padding": 0}, "axis": null},
           "y": {"field": "v", "type": "quantitative", "scale": {"domain": [3.34, 167.14], "nice": false, "zero": false}, "axis": null}, "text": {"field": "label"}}},
        {"data": {"name": "levels"}, "mark": {"type": "rule", "strokeWidth": 1, "clip": true},
         "encoding": {
           "y": {"field": "v", "type": "quantitative", "scale": {"domain": [3.34, 167.14], "nice": false, "zero": false}, "axis": null},
           "color": {"field": "s", "type": "nominal", "legend": null, "scale": {"domain": ["rs", "bs", "bs2", "rdot", "rdash", "gs", "mdash", "ts", "bdash", "grs", "bdot", "mdd", "gdash", "ms", "bdash2"],
             "range": ["#f23645", "#5b9cf6", "#8fbff2", "#f23645", "#f77c80", "#9598a1", "#f08ce0", "#22ab94", "#7ea6e0", "#8fcf8f", "#4a86e8", "#e040e0", "#a0a0a0", "#f7a0f0", "#6a9ae8"]}},
           "strokeDash": {"field": "s", "type": "nominal", "legend": null, "scale": {"domain": ["rs", "bs", "bs2", "rdot", "rdash", "gs", "mdash", "ts", "bdash", "grs", "bdot", "mdd", "gdash", "ms", "bdash2"],
             "range": [[1, 0], [1, 0], [1, 0], [2, 3], [5, 4], [1, 0], [4, 3], [1, 0], [9, 6], [1, 0], [2, 3], [5, 2, 2, 2], [8, 8], [1, 0], [4, 3]]}}}},
        {"data": {"name": "levlab"}, "mark": {"type": "text", "align": "right", "baseline": "bottom", "dy": -1, "fontSize": 8},
         "encoding": {
           "x": {"datum": 148.2, "type": "quantitative", "scale": {"domain": [-23.79, 149.27], "nice": false, "zero": false, "padding": 0}, "axis": null},
           "y": {"field": "v", "type": "quantitative", "scale": {"domain": [3.34, 167.14], "nice": false, "zero": false}, "axis": null},
           "text": {"field": "label"},
           "color": {"field": "s", "type": "nominal", "legend": null, "scale": {"domain": ["rs", "bs", "gs", "ts", "grs"], "range": ["#f23645", "#5b9cf6", "#8a8d96", "#22ab94", "#6fbf73"]}}}},
        {"data": {"name": "ital"}, "mark": {"type": "text", "align": "right", "baseline": "middle", "fontSize": 12, "fontStyle": "italic", "color": "#444444"},
         "encoding": {
           "x": {"datum": 148.2, "type": "quantitative", "scale": {"domain": [-23.79, 149.27], "nice": false, "zero": false, "padding": 0}, "axis": null},
           "y": {"field": "v", "type": "quantitative", "scale": {"domain": [3.34, 167.14], "nice": false, "zero": false}, "axis": null},
           "text": {"field": "label"}}},
        {"data": {"name": "dates"}, "mark": {"type": "rule", "color": "#5b9cf6", "strokeWidth": 1.2, "clip": true},
         "encoding": {"x": {"field": "t", "type": "quantitative", "scale": {"domain": [-23.79, 149.27], "nice": false, "zero": false, "padding": 0}, "axis": null}}},
        {"data": {"values": [{}]}, "mark": {"type": "rule", "color": "#e0e3eb", "clip": true},
         "encoding": {"x": {"datum": 149.27, "type": "quantitative", "scale": {"domain": [-23.79, 149.27], "nice": false, "zero": false, "padding": 0}, "axis": null}}},
        {"data": {"name": "trend"}, "mark": {"type": "line", "strokeWidth": 1.7, "clip": true},
         "encoding": {"x": {"field": "t", "type": "quantitative", "scale": {"domain": [-23.79, 149.27], "nice": false, "zero": false, "padding": 0}, "axis": null},
           "y": {"field": "v", "type": "quantitative", "scale": {"domain": [3.34, 167.14], "nice": false, "zero": false}, "axis": null},
           "color": {"field": "k", "type": "nominal", "legend": null, "scale": {"domain": ["d", "u", "g"], "range": ["#a83232", "#a83232", "#3ce63c"]}}}},
        {"data": {"name": "ma"}, "mark": {"type": "line", "color": "#f7c27c", "strokeWidth": 2, "interpolate": "monotone", "clip": true},
         "encoding": {"x": {"field": "t", "type": "quantitative", "scale": {"domain": [-23.79, 149.27], "nice": false, "zero": false, "padding": 0}, "axis": null},
           "y": {"field": "v", "type": "quantitative", "scale": {"domain": [3.34, 167.14], "nice": false, "zero": false}, "axis": null}}},
        {"data": {"name": "pink"}, "mark": {"type": "line", "color": "#f08078", "opacity": 0.45, "strokeWidth": 10, "interpolate": "monotone", "strokeCap": "round", "clip": true},
         "encoding": {"x": {"field": "t", "type": "quantitative", "scale": {"domain": [-23.79, 149.27], "nice": false, "zero": false, "padding": 0}, "axis": null},
           "y": {"field": "v", "type": "quantitative", "scale": {"domain": [3.34, 167.14], "nice": false, "zero": false}, "axis": null}}},
        {"data": {"name": "bstep"}, "mark": {"type": "line", "color": "#3d7de6", "strokeWidth": 2.2, "interpolate": "step-after", "clip": true},
         "encoding": {"x": {"field": "t", "type": "quantitative", "scale": {"domain": [-23.79, 149.27], "nice": false, "zero": false, "padding": 0}, "axis": null},
           "y": {"field": "v", "type": "quantitative", "scale": {"domain": [3.34, 167.14], "nice": false, "zero": false}, "axis": null}}},
        {"data": {"name": "bdiag"}, "mark": {"type": "line", "color": "#3d7de6", "strokeWidth": 2.2, "clip": true},
         "encoding": {"x": {"field": "t", "type": "quantitative", "scale": {"domain": [-23.79, 149.27], "nice": false, "zero": false, "padding": 0}, "axis": null},
           "y": {"field": "v", "type": "quantitative", "scale": {"domain": [3.34, 167.14], "nice": false, "zero": false}, "axis": null}}},
        {"data": {"name": "rstep"}, "mark": {"type": "line", "color": "#a02c2c", "strokeWidth": 1.4, "interpolate": "step-after", "clip": true},
         "encoding": {"x": {"field": "t", "type": "quantitative", "scale": {"domain": [-23.79, 149.27], "nice": false, "zero": false, "padding": 0}, "axis": null},
           "y": {"field": "v", "type": "quantitative", "scale": {"domain": [3.34, 167.14], "nice": false, "zero": false}, "axis": null}, "detail": {"field": "g"}}},
        {"data": {"name": "fast"}, "transform": [{"filter": "datum.k == 'o'"}], "mark": {"type": "line", "color": "#f5a070", "opacity": 0.4, "strokeWidth": 7, "interpolate": "monotone", "strokeCap": "round", "strokeJoin": "round", "clip": true},
         "encoding": {"x": {"field": "t", "type": "quantitative", "scale": {"domain": [-23.79, 149.27], "nice": false, "zero": false, "padding": 0}, "axis": null},
           "y": {"field": "v", "type": "quantitative", "scale": {"domain": [3.34, 167.14], "nice": false, "zero": false}, "axis": null}, "detail": {"field": "g"}}},
        {"data": {"name": "fast"}, "transform": [{"filter": "datum.k == 'c'"}], "mark": {"type": "line", "color": "#5cc6c6", "opacity": 0.4, "strokeWidth": 7, "interpolate": "monotone", "strokeCap": "round", "strokeJoin": "round", "clip": true},
         "encoding": {"x": {"field": "t", "type": "quantitative", "scale": {"domain": [-23.79, 149.27], "nice": false, "zero": false, "padding": 0}, "axis": null},
           "y": {"field": "v", "type": "quantitative", "scale": {"domain": [3.34, 167.14], "nice": false, "zero": false}, "axis": null}, "detail": {"field": "g"}}},
        {"data": {"name": "ema"}, "transform": [{"filter": "datum.k == 'c'"}], "mark": {"type": "line", "color": "#62c9c9", "opacity": 0.55, "strokeWidth": 7, "interpolate": "monotone", "strokeJoin": "round", "clip": true},
         "encoding": {"x": {"field": "t", "type": "quantitative", "scale": {"domain": [-23.79, 149.27], "nice": false, "zero": false, "padding": 0}, "axis": null},
           "y": {"field": "v", "type": "quantitative", "scale": {"domain": [3.34, 167.14], "nice": false, "zero": false}, "axis": null}}},
        {"data": {"name": "ema"}, "transform": [{"filter": "datum.k == 'b'"}], "mark": {"type": "line", "color": "#3a78e0", "strokeWidth": 2.6, "interpolate": "monotone", "clip": true},
         "encoding": {"x": {"field": "t", "type": "quantitative", "scale": {"domain": [-23.79, 149.27], "nice": false, "zero": false, "padding": 0}, "axis": null},
           "y": {"field": "v", "type": "quantitative", "scale": {"domain": [3.34, 167.14], "nice": false, "zero": false}, "axis": null}}},
        {"data": {"name": "candles"}, "mark": {"type": "rule", "strokeWidth": 1, "clip": true},
         "encoding": {"x": {"field": "t", "type": "quantitative", "scale": {"domain": [-23.79, 149.27], "nice": false, "zero": false, "padding": 0}, "axis": null},
           "y": {"field": "l", "type": "quantitative", "scale": {"domain": [3.34, 167.14], "nice": false, "zero": false}, "axis": null}, "y2": {"field": "h"},
           "color": {"condition": {"test": "datum.c >= datum.o", "value": "#26a69a"}, "value": "#ef5350"}}},
        {"data": {"name": "candles"}, "mark": {"type": "bar", "size": 3.2, "clip": true},
         "encoding": {"x": {"field": "t", "type": "quantitative", "scale": {"domain": [-23.79, 149.27], "nice": false, "zero": false, "padding": 0}, "axis": null},
           "y": {"field": "o", "type": "quantitative", "scale": {"domain": [3.34, 167.14], "nice": false, "zero": false}, "axis": null}, "y2": {"field": "c"},
           "color": {"condition": {"test": "datum.c >= datum.o", "value": "#26a69a"}, "value": "#ef5350"}}},
        {"data": {"values": [{"v": 164.2, "label": "니오 / 미국 달러, 1날, BITTREX"}, {"v": 160.3, "label": "MRMAB-B (, 1W, 60, 1.0)"}]},
         "mark": {"type": "text", "align": "left", "baseline": "middle", "fontSize": 9, "color": "#4a4a4a", "font": "Noto Sans CJK KR"},
         "encoding": {"x": {"datum": -22.95, "type": "quantitative", "scale": {"domain": [-23.79, 149.27], "nice": false, "zero": false, "padding": 0}, "axis": null},
           "y": {"field": "v", "type": "quantitative", "scale": {"domain": [3.34, 167.14], "nice": false, "zero": false}, "axis": null}, "text": {"field": "label"}}},
        {"data": {"name": "tags"}, "transform": [{"filter": "datum.label != '51.21433445'"}], "mark": {"type": "tick", "orient": "horizontal", "thickness": 14, "size": 100, "opacity": 1},
         "encoding": {"x": {"datum": 160, "type": "quantitative", "scale": {"domain": [-23.79, 149.27], "nice": false, "zero": false, "padding": 0}, "axis": null},
           "y": {"field": "pos", "type": "quantitative", "scale": {"domain": [3.34, 167.14], "nice": false, "zero": false}, "axis": null},
           "color": {"field": "label", "type": "nominal", "legend": null, "scale": {
             "domain": ["127.74181151", "109.08891509", "90.51579065", "79.70498226", "58.57620000", "55.62236728", "50.22168635", "37.81218770", "23.66260578", "13.53278176", "7.59861670"],
             "range": ["#f20000", "#f20000", "#f200f2", "#4a86e8", "#1e223a", "#4a86e8", "#f20000", "#f200f2", "#9a9a9a", "#f200f2", "#0000c8"]}}}},
        {"data": {"name": "tags"}, "transform": [{"filter": "datum.label == '51.21433445'"}], "mark": {"type": "tick", "orient": "horizontal", "thickness": 24, "size": 100, "opacity": 1, "color": "#26a69a", "yOffset": 6},
         "encoding": {"x": {"datum": 160, "type": "quantitative", "scale": {"domain": [-23.79, 149.27], "nice": false, "zero": false, "padding": 0}, "axis": null},
           "y": {"field": "pos", "type": "quantitative", "scale": {"domain": [3.34, 167.14], "nice": false, "zero": false}, "axis": null}}},
        {"data": {"name": "tags"}, "mark": {"type": "text", "align": "left", "baseline": "middle", "fontSize": 13.5},
         "encoding": {"x": {"datum": 151.4, "type": "quantitative", "scale": {"domain": [-23.79, 149.27], "nice": false, "zero": false, "padding": 0}, "axis": null},
           "y": {"field": "pos", "type": "quantitative", "scale": {"domain": [3.34, 167.14], "nice": false, "zero": false}, "axis": null},
           "text": {"field": "label"},
           "color": {"condition": {"test": "datum.label == '23.66260578'", "value": "#1e1e1e"}, "value": "#ffffff"}}},
        {"data": {"values": [{"v": 50.8, "label": "10:09"}]}, "mark": {"type": "text", "align": "left", "baseline": "middle", "fontSize": 13, "dy": 13, "color": "#ffffff"},
         "encoding": {"x": {"datum": 151.4, "type": "quantitative", "scale": {"domain": [-23.79, 149.27], "nice": false, "zero": false, "padding": 0}, "axis": null},
           "y": {"field": "v", "type": "quantitative", "scale": {"domain": [3.34, 167.14], "nice": false, "zero": false}, "axis": null}, "text": {"field": "label"}}},
        {"data": {"values": [{}]}, "mark": {"type": "rule", "color": "#e0e3eb", "clip": true},
         "encoding": {"y": {"datum": 3.34, "type": "quantitative", "scale": {"domain": [3.34, 167.14], "nice": false, "zero": false}, "axis": null}}}
      ]
    },
    {
      "width": 822,
      "height": 43,
      "resolve": {"scale": {"color": "independent", "shape": "independent"}},
      "layer": [
        {"data": {"name": "bands"}, "mark": {"type": "rect", "clip": true},
         "encoding": {"x": {"field": "t1", "type": "quantitative", "scale": {"domain": [-23.79, 149.27], "nice": false, "zero": false, "padding": 0}, "axis": null}, "x2": {"field": "t2"},
           "color": {"field": "k", "type": "nominal", "scale": {"domain": ["p", "pf", "c"], "range": ["#fde9e9", "#fef5f5", "#e3f4f6"]}, "legend": null}}},
        {"data": {"name": "vband"}, "transform": [{"filter": "datum.k == 'g'"}], "mark": {"type": "area", "color": "#9ad49c", "opacity": 0.55, "interpolate": "monotone", "clip": true},
         "encoding": {"x": {"field": "t", "type": "quantitative", "scale": {"domain": [-23.79, 149.27], "nice": false, "zero": false, "padding": 0}, "axis": null},
           "y": {"field": "lo", "type": "quantitative", "scale": {"domain": [-27.3, 363.6], "nice": false, "zero": false}, "axis": null}, "y2": {"field": "hi"}, "detail": {"field": "g"}}},
        {"data": {"name": "vband"}, "transform": [{"filter": "datum.k == 'r'"}], "mark": {"type": "area", "color": "#f6b0aa", "opacity": 0.55, "interpolate": "monotone", "clip": true},
         "encoding": {"x": {"field": "t", "type": "quantitative", "scale": {"domain": [-23.79, 149.27], "nice": false, "zero": false, "padding": 0}, "axis": null},
           "y": {"field": "lo", "type": "quantitative", "scale": {"domain": [-27.3, 363.6], "nice": false, "zero": false}, "axis": null}, "y2": {"field": "hi"}, "detail": {"field": "g"}}},
        {"data": {"name": "vma"}, "mark": {"type": "line", "color": "#4cc0b5", "strokeWidth": 1.5, "interpolate": "monotone", "clip": true},
         "encoding": {"x": {"field": "t", "type": "quantitative", "scale": {"domain": [-23.79, 149.27], "nice": false, "zero": false, "padding": 0}, "axis": null},
           "y": {"field": "v", "type": "quantitative", "scale": {"domain": [-27.3, 363.6], "nice": false, "zero": false}, "axis": null}}},
        {"data": {"name": "candles"}, "mark": {"type": "bar", "size": 3.2, "clip": true},
         "encoding": {"x": {"field": "t", "type": "quantitative", "scale": {"domain": [-23.79, 149.27], "nice": false, "zero": false, "padding": 0}, "axis": null},
           "y": {"field": "vol", "type": "quantitative", "scale": {"domain": [-27.3, 363.6], "nice": false, "zero": false}, "axis": null},
           "y2": {"datum": 0},
           "color": {"condition": {"test": "datum.c >= datum.o", "value": "#80cbc0"}, "value": "#f7a9a4"}}},
        {"data": {"name": "vmarks"}, "mark": {"type": "point", "filled": true, "size": 28, "opacity": 1},
         "encoding": {"x": {"field": "t", "type": "quantitative", "scale": {"domain": [-23.79, 149.27], "nice": false, "zero": false, "padding": 0}, "axis": null},
           "y": {"field": "v", "type": "quantitative", "scale": {"domain": [-27.3, 363.6], "nice": false, "zero": false}, "axis": null},
           "shape": {"field": "k", "type": "nominal", "legend": null, "scale": {"domain": ["d", "u"], "range": ["triangle-down", "triangle-up"]}},
           "color": {"field": "k", "type": "nominal", "legend": null, "scale": {"domain": ["d", "u"], "range": ["#f23645", "#1b4d4d"]}}}},
        {"data": {"values": [{"v": 282, "label": "거래량 (Volume) (26)"}]}, "mark": {"type": "text", "align": "left", "baseline": "middle", "fontSize": 9, "color": "#4a4a4a", "font": "Noto Sans CJK KR"},
         "encoding": {"x": {"datum": -22.95, "type": "quantitative", "scale": {"domain": [-23.79, 149.27], "nice": false, "zero": false, "padding": 0}, "axis": null},
           "y": {"field": "v", "type": "quantitative", "scale": {"domain": [-27.3, 363.6], "nice": false, "zero": false}, "axis": null}, "text": {"field": "label"}}},
        {"data": {"values": [{"v": 0, "label": "0"}, {"v": 200, "label": "200K"}]}, "mark": {"type": "text", "align": "left", "baseline": "middle", "fontSize": 14, "color": "#131722"},
         "encoding": {"x": {"datum": 151.4, "type": "quantitative", "scale": {"domain": [-23.79, 149.27], "nice": false, "zero": false, "padding": 0}, "axis": null},
           "y": {"field": "v", "type": "quantitative", "scale": {"domain": [-27.3, 363.6], "nice": false, "zero": false}, "axis": null}, "text": {"field": "label"}}},
        {"data": {"values": [{}]}, "mark": {"type": "rule", "color": "#e0e3eb", "clip": true},
         "encoding": {"x": {"datum": 149.27, "type": "quantitative", "scale": {"domain": [-23.79, 149.27], "nice": false, "zero": false, "padding": 0}, "axis": null}}},
        {"data": {"values": [{}]}, "mark": {"type": "rule", "color": "#e0e3eb", "clip": true},
         "encoding": {"y": {"datum": -27.3, "type": "quantitative", "scale": {"domain": [-27.3, 363.6], "nice": false, "zero": false}, "axis": null}}}
      ]
    },
    {
      "width": 822,
      "height": 55,
      "resolve": {"scale": {"color": "independent", "strokeDash": "independent", "shape": "independent"}},
      "layer": [
        {"data": {"name": "rlev"}, "mark": {"type": "rule", "color": "#9598a1", "strokeWidth": 1, "clip": true},
         "encoding": {
           "y": {"field": "v", "type": "quantitative", "scale": {"domain": [-8.9, 113.3], "nice": false, "zero": false}, "axis": null},
           "strokeDash": {"field": "s", "type": "nominal", "legend": null, "scale": {"domain": ["d", "s"], "range": [[4, 4], [1, 0]]}}}},
        {"data": {"name": "rrib"}, "transform": [{"filter": "datum.k == 'g'"}], "mark": {"type": "line", "color": "#7cc47f", "opacity": 0.6, "strokeWidth": 5, "clip": true},
         "encoding": {"x": {"field": "t", "type": "quantitative", "scale": {"domain": [-23.79, 149.27], "nice": false, "zero": false, "padding": 0}, "axis": null},
           "y": {"field": "v", "type": "quantitative", "scale": {"domain": [-8.9, 113.3], "nice": false, "zero": false}, "axis": null}, "detail": {"field": "g"}}},
        {"data": {"name": "rrib"}, "transform": [{"filter": "datum.k == 'r'"}], "mark": {"type": "line", "color": "#f28b86", "opacity": 0.6, "strokeWidth": 5, "clip": true},
         "encoding": {"x": {"field": "t", "type": "quantitative", "scale": {"domain": [-23.79, 149.27], "nice": false, "zero": false, "padding": 0}, "axis": null},
           "y": {"field": "v", "type": "quantitative", "scale": {"domain": [-8.9, 113.3], "nice": false, "zero": false}, "axis": null}, "detail": {"field": "g"}}},
        {"data": {"name": "rsmooth"}, "transform": [{"filter": "datum.k == 'b'"}], "mark": {"type": "line", "color": "#4fa3e0", "strokeWidth": 2, "interpolate": "monotone", "clip": true},
         "encoding": {"x": {"field": "t", "type": "quantitative", "scale": {"domain": [-23.79, 149.27], "nice": false, "zero": false, "padding": 0}, "axis": null},
           "y": {"field": "v", "type": "quantitative", "scale": {"domain": [-8.9, 113.3], "nice": false, "zero": false}, "axis": null}, "detail": {"field": "g"}}},
        {"data": {"name": "rsmooth"}, "transform": [{"filter": "datum.k == 'r'"}], "mark": {"type": "line", "color": "#f23645", "strokeWidth": 2, "interpolate": "monotone", "clip": true},
         "encoding": {"x": {"field": "t", "type": "quantitative", "scale": {"domain": [-23.79, 149.27], "nice": false, "zero": false, "padding": 0}, "axis": null},
           "y": {"field": "v", "type": "quantitative", "scale": {"domain": [-8.9, 113.3], "nice": false, "zero": false}, "axis": null}, "detail": {"field": "g"}}},
        {"data": {"name": "rmarks"}, "mark": {"type": "point", "filled": true, "size": 28, "opacity": 1},
         "encoding": {"x": {"field": "t", "type": "quantitative", "scale": {"domain": [-23.79, 149.27], "nice": false, "zero": false, "padding": 0}, "axis": null},
           "y": {"field": "v", "type": "quantitative", "scale": {"domain": [-8.9, 113.3], "nice": false, "zero": false}, "axis": null},
           "shape": {"field": "k", "type": "nominal", "legend": null, "scale": {"domain": ["d", "u"], "range": ["triangle-down", "triangle-up"]}},
           "color": {"field": "k", "type": "nominal", "legend": null, "scale": {"domain": ["d", "u"], "range": ["#f23645", "#1b4d4d"]}}}},
        {"data": {"values": [{"v": 95.6, "label": "wRSI-RR"}]}, "mark": {"type": "text", "align": "left", "baseline": "middle", "fontSize": 9, "color": "#4a4a4a"},
         "encoding": {"x": {"datum": -22.95, "type": "quantitative", "scale": {"domain": [-23.79, 149.27], "nice": false, "zero": false, "padding": 0}, "axis": null},
           "y": {"field": "v", "type": "quantitative", "scale": {"domain": [-8.9, 113.3], "nice": false, "zero": false}, "axis": null}, "text": {"field": "label"}}},
        {"data": {"values": [{"v": 0, "label": "0.00000000"}, {"v": 50, "label": "50.00000000"}, {"v": 100, "label": "100.00000000"}]}, "mark": {"type": "text", "align": "left", "baseline": "middle", "fontSize": 14, "color": "#131722"},
         "encoding": {"x": {"datum": 151.4, "type": "quantitative", "scale": {"domain": [-23.79, 149.27], "nice": false, "zero": false, "padding": 0}, "axis": null},
           "y": {"field": "v", "type": "quantitative", "scale": {"domain": [-8.9, 113.3], "nice": false, "zero": false}, "axis": null}, "text": {"field": "label"}}},
        {"data": {"values": [{}]}, "mark": {"type": "rule", "color": "#e0e3eb", "clip": true},
         "encoding": {"x": {"datum": 149.27, "type": "quantitative", "scale": {"domain": [-23.79, 149.27], "nice": false, "zero": false, "padding": 0}, "axis": null}}},
        {"data": {"values": [{}]}, "mark": {"type": "rule", "color": "#e0e3eb", "clip": true},
         "encoding": {"y": {"datum": -8.9, "type": "quantitative", "scale": {"domain": [-8.9, 113.3], "nice": false, "zero": false}, "axis": null}}}
      ]
    },
    {
      "width": 822,
      "height": 44,
      "layer": [
        {"data": {"values": [{}]}, "mark": {"type": "rect", "color": "#f3ead9", "clip": true},
         "encoding": {"y": {"datum": 100, "type": "quantitative", "scale": {"domain": [-66.7, 520], "nice": false, "zero": false}, "axis": null}, "y2": {"datum": -66.7}}},
        {"data": {"values": [{"v": 0}]}, "mark": {"type": "rule", "color": "#c8c8c8", "clip": true},
         "encoding": {"y": {"field": "v", "type": "quantitative", "scale": {"domain": [-66.7, 520], "nice": false, "zero": false}, "axis": null}}},
        {"data": {"name": "ccima"}, "mark": {"type": "line", "color": "#9b1c1c", "strokeWidth": 1.6, "interpolate": "monotone", "clip": true},
         "encoding": {"x": {"field": "t", "type": "quantitative", "scale": {"domain": [-23.79, 149.27], "nice": false, "zero": false, "padding": 0}, "axis": null},
           "y": {"field": "v", "type": "quantitative", "scale": {"domain": [-66.7, 520], "nice": false, "zero": false}, "axis": null}}},
        {"data": {"name": "cci"}, "transform": [{"filter": "datum.k == 'g'"}], "mark": {"type": "line", "color": "#1d8a3f", "strokeWidth": 1.5, "clip": true},
         "encoding": {"x": {"field": "t", "type": "quantitative", "scale": {"domain": [-23.79, 149.27], "nice": false, "zero": false, "padding": 0}, "axis": null},
           "y": {"field": "v", "type": "quantitative", "scale": {"domain": [-66.7, 520], "nice": false, "zero": false}, "axis": null}, "detail": {"field": "g"}}},
        {"data": {"name": "cci"}, "transform": [{"filter": "datum.k == 'k'"}], "mark": {"type": "line", "color": "#111111", "strokeWidth": 1.5, "clip": true},
         "encoding": {"x": {"field": "t", "type": "quantitative", "scale": {"domain": [-23.79, 149.27], "nice": false, "zero": false, "padding": 0}, "axis": null},
           "y": {"field": "v", "type": "quantitative", "scale": {"domain": [-66.7, 520], "nice": false, "zero": false}, "axis": null}, "detail": {"field": "g"}}},
        {"data": {"name": "cci"}, "transform": [{"filter": "datum.k == 'r'"}], "mark": {"type": "line", "color": "#e0443c", "strokeWidth": 1.5, "clip": true},
         "encoding": {"x": {"field": "t", "type": "quantitative", "scale": {"domain": [-23.79, 149.27], "nice": false, "zero": false, "padding": 0}, "axis": null},
           "y": {"field": "v", "type": "quantitative", "scale": {"domain": [-66.7, 520], "nice": false, "zero": false}, "axis": null}, "detail": {"field": "g"}}},
        {"data": {"values": [{"v": 400, "label": "CCI-RC"}]}, "mark": {"type": "text", "align": "left", "baseline": "middle", "fontSize": 9, "color": "#4a4a4a"},
         "encoding": {"x": {"datum": -22.95, "type": "quantitative", "scale": {"domain": [-23.79, 149.27], "nice": false, "zero": false, "padding": 0}, "axis": null},
           "y": {"field": "v", "type": "quantitative", "scale": {"domain": [-66.7, 520], "nice": false, "zero": false}, "axis": null}, "text": {"field": "label"}}},
        {"data": {"values": [{"v": 0, "label": "0.00000000"}, {"v": 400, "label": "400.00000000"}]}, "mark": {"type": "text", "align": "left", "baseline": "middle", "fontSize": 14, "color": "#131722"},
         "encoding": {"x": {"datum": 151.4, "type": "quantitative", "scale": {"domain": [-23.79, 149.27], "nice": false, "zero": false, "padding": 0}, "axis": null},
           "y": {"field": "v", "type": "quantitative", "scale": {"domain": [-66.7, 520], "nice": false, "zero": false}, "axis": null}, "text": {"field": "label"}}},
        {"data": {"values": [{}]}, "mark": {"type": "rule", "color": "#e0e3eb", "clip": true},
         "encoding": {"x": {"datum": 149.27, "type": "quantitative", "scale": {"domain": [-23.79, 149.27], "nice": false, "zero": false, "padding": 0}, "axis": null}}},
        {"data": {"name": "months"}, "mark": {"type": "text", "align": "center", "baseline": "middle", "fontSize": 13, "fontWeight": "bold", "color": "#131722", "font": "Noto Sans CJK KR"},
         "encoding": {"x": {"field": "t", "type": "quantitative", "scale": {"domain": [-23.79, 149.27], "nice": false, "zero": false, "padding": 0}, "axis": null},
           "y": {"datum": -186.7, "type": "quantitative", "scale": {"domain": [-66.7, 520], "nice": false, "zero": false}, "axis": null}, "text": {"field": "label"}}},
        {"data": {"name": "dates"}, "mark": {"type": "tick", "orient": "horizontal", "thickness": 18, "size": 70, "opacity": 1, "color": "#4d88e3"},
         "encoding": {"x": {"field": "t", "type": "quantitative", "scale": {"domain": [-23.79, 149.27], "nice": false, "zero": false, "padding": 0}, "axis": null},
           "y": {"datum": -186.7, "type": "quantitative", "scale": {"domain": [-66.7, 520], "nice": false, "zero": false}, "axis": null}}},
        {"data": {"name": "dates"}, "mark": {"type": "text", "align": "center", "baseline": "middle", "fontSize": 13, "color": "#ffffff"},
         "encoding": {"x": {"field": "t", "type": "quantitative", "scale": {"domain": [-23.79, 149.27], "nice": false, "zero": false, "padding": 0}, "axis": null},
           "y": {"datum": -186.7, "type": "quantitative", "scale": {"domain": [-66.7, 520], "nice": false, "zero": false}, "axis": null}, "text": {"field": "label"}}}
      ]
    }
  ]
}
